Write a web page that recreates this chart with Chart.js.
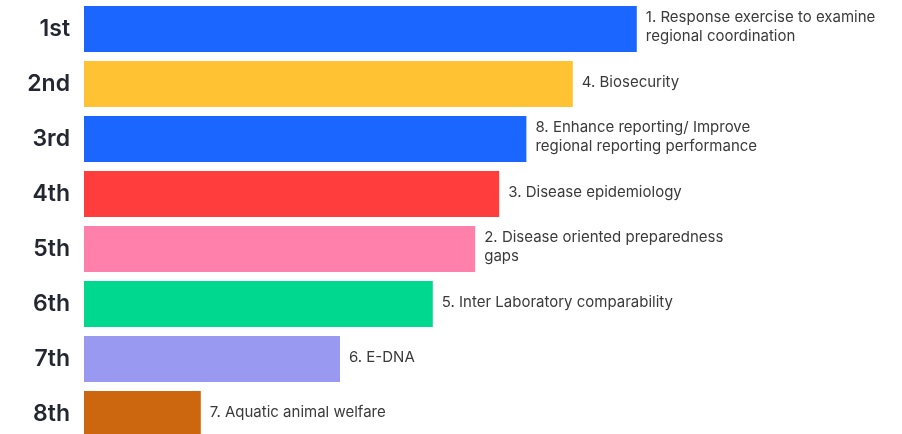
<!DOCTYPE html>
<html>
<head>
<meta charset="utf-8">
<script src="https://cdn.jsdelivr.net/npm/chart.js@4.4.1/dist/chart.umd.min.js"></script>
<style>
  html, body { margin: 0; padding: 0; background: #fff; overflow: hidden; }
  #wrap { position: relative; width: 902px; height: 442px; }
</style>
</head>
<body>
<div id="wrap"><canvas id="rankChart"></canvas></div>
<script>
// Ranking data
const ranks = ['1st', '2nd', '3rd', '4th', '5th', '6th', '7th', '8th'];
const scores = [69.1, 61.1, 55.3, 51.9, 48.9, 43.6, 32.0, 14.6];
const topics = [
    ['1. Response exercise to examine', 'regional coordination'],
    ['4. Biosecurity'],
    ['8. Enhance reporting/ Improve', 'regional reporting performance'],
    ['3. Disease epidemiology'],
    ['2. Disease oriented preparedness', 'gaps'],
    ['5. Inter Laboratory comparability'],
    ['6. E-DNA'],
    ['7. Aquatic animal welfare']
];
const barColors = ['#1a66ff', '#ffc233', '#1a66ff', '#ff3d3d', '#ff80aa', '#00d890', '#9999f2', '#cc660f'];

// Draw the topic text to the right of each bar
const topicLabels = {
    id: 'topicLabels',
    afterDatasetsDraw(chart) {
        const ctx = chart.ctx;
        const meta = chart.getDatasetMeta(0);
        ctx.save();
        ctx.font = '15px Inter';
        ctx.fillStyle = '#3a3a3a';
        ctx.textBaseline = 'middle';
        ctx.textAlign = 'left';
        meta.data.forEach((bar, i) => {
            const lines = topics[i];
            const lh = 18.5;
            const startY = bar.y - 2 - (lines.length - 1) * lh / 2;
            lines.forEach((line, j) => {
                ctx.fillText(line, bar.x + 9, startY + j * lh);
            });
        });
        ctx.restore();
    }
};

const ctx = document.getElementById('rankChart').getContext('2d');
const rankChart = new Chart(ctx, {
    type: 'bar',
    data: {
        labels: ranks,
        datasets: [{
            data: scores,
            backgroundColor: barColors,
            borderWidth: 0,
            barPercentage: 46 / 55,
            categoryPercentage: 1
        }]
    },
    options: {
        indexAxis: 'y',
        responsive: true,
        maintainAspectRatio: false,
        animation: false,
        layout: { padding: { top: 1.5, right: 18, bottom: 0.5, left: 0 } },
        plugins: {
            legend: { display: false },
            tooltip: { enabled: false }
        },
        scales: {
            x: {
                display: false,
                min: 0,
                max: 100
            },
            y: {
                grid: { display: false, drawTicks: false },
                border: { display: false },
                afterFit(scale) {
                    scale.width = 84;
                    scale.paddingTop = 0;
                    scale.paddingBottom = 0;
                },
                ticks: {
                    padding: 14,
                    color: '#222732',
                    font: { family: 'Inter', size: 23, weight: '600' }
                }
            }
        }
    },
    plugins: [topicLabels]
});
</script>
</body>
</html>
